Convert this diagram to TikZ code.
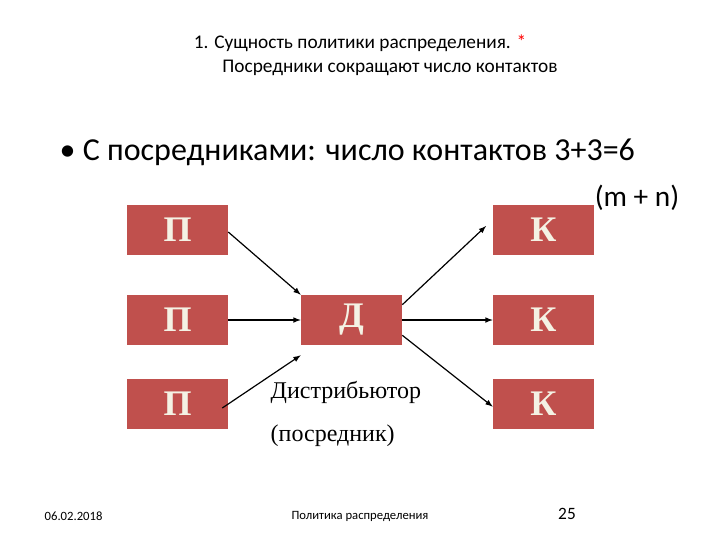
\documentclass[tikz,border=0pt]{standalone}
\usepackage{fontspec}
\setmainfont{Liberation Serif}
\newfontfamily\calib{Carlito}
\definecolor{boxred}{HTML}{C0504D}
\definecolor{cream}{HTML}{F4F2E4}
\begin{document}
\begin{tikzpicture}[x=0.75pt,y=-0.75pt,
  bx/.style={fill=boxred,minimum width=75.75pt,minimum height=37.5pt,inner sep=0,text=cream,font=\bfseries\fontsize{27}{27}\selectfont},
  arr/.style={-latex,line width=0.9pt}]
\useasboundingbox (0,0) rectangle (720,540);
\node[font=\calib\fontsize{14.5}{16}\selectfont] (t1) at (360,43) {1. Сущность политики распределения. \textcolor{red}{*}};
\node[font=\calib\fontsize{14.5}{16}\selectfont] (t2) at (390,68) {Посредники сокращают число контактов};
\node[font=\calib\fontsize{24}{28}\selectfont,anchor=west] (b) at (55,152) {\textbullet\ С посредниками: число контактов 3+3=6};
\node[font=\calib\fontsize{22}{24}\selectfont] (mn) at (637,198) {(m + n)};
\node[bx] (p1) at (177.5,230) {П};
\node[bx] (p2) at (177.5,320) {П};
\node[bx] (p3) at (177.5,404) {П};
\node[bx] (d) at (351.5,320) {Д};
\node[bx] (k1) at (543.5,230) {К};
\node[bx] (k2) at (543.5,320) {К};
\node[bx] (k3) at (543.5,404) {К};
\node[font=\fontsize{18}{20}\selectfont,anchor=west] (ds) at (266,392) {Дистрибьютор};
\node[font=\fontsize{18}{20}\selectfont,anchor=west] (ps) at (266,436) {(посредник)};
\draw[arr] (p1.east) ++(0,2) -- (d.north west);
\draw[arr] (p2.east) -- (d.west);
\draw[arr] ([xshift=-4.5pt,yshift=-3pt]p3.east) -- ([yshift=-7.5pt]d.south west);
\draw[arr] ([yshift=-7.5pt]d.north east) -- ([xshift=-5pt,yshift=3pt]k1.west);
\draw[arr] (d.east) -- (k2.west);
\draw[arr] ([yshift=7.5pt]d.south east) -- ([yshift=-2pt]k3.west);
\node[font=\calib\fontsize{9.5}{10}\selectfont,anchor=west] (dt) at (40,516) {06.02.2018};
\node[font=\calib\fontsize{9.5}{10}\selectfont] (ft) at (360,516) {Политика распределения};
\node[font=\calib\fontsize{13}{14}\selectfont] (pg) at (567,514) {25};
\end{tikzpicture}
\end{document}
